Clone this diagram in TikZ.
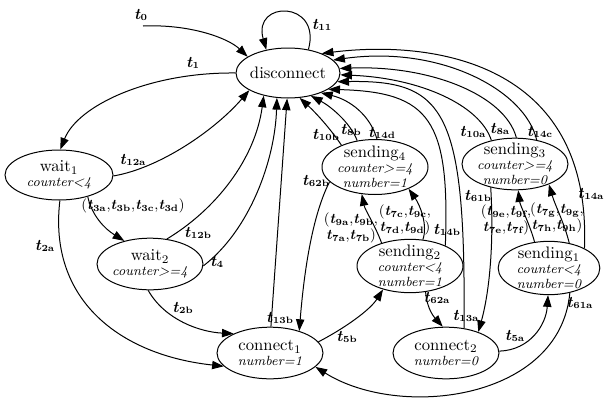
\documentclass[tikz,border=0pt]{standalone}
\usetikzlibrary{arrows.meta,shapes.geometric}
\newcommand{\tlab}[1]{\textbf{\textit{t}}\textsubscript{\fontsize{5.6}{5.6}\selectfont\bfseries #1}}
\newcommand{\sit}[1]{{\fontsize{8}{9}\selectfont\itshape #1}}
\begin{document}
\begin{tikzpicture}[x=0.6pt,y=-0.6pt,
  st/.style={ellipse,draw,line width=0.6pt,inner sep=-3pt,align=center,
    font=\fontsize{10}{9}\selectfont,minimum width=63.6pt,minimum height=31pt},
  tr/.style={line width=0.6pt,-{Triangle[length=7pt,width=5pt]}},
  lb/.style={font=\fontsize{9.5}{9.5}\selectfont,inner sep=0pt,align=center},
  lbs/.style={font=\fontsize{8.6}{9.5}\selectfont,inner sep=0pt,align=center}
]
\useasboundingbox (0,0) rectangle (605,399);
% states
\node[st,minimum width=62.4pt,minimum height=30pt] (disc) at (288,73) {disconnect};
\node[st,minimum width=64.8pt,minimum height=30pt] (w1) at (59,175) {wait\textsubscript{1}\\\sit{counter<4}};
\node[st] (w2) at (150,264) {wait\textsubscript{2}\\\sit{counter>=4}};
\node[st] (c1) at (270,353) {connect\textsubscript{1}\\\sit{number=1}};
\node[st] (c2) at (446,353) {connect\textsubscript{2}\\\sit{number=0}};
\node[st,minimum height=33pt] (s4) at (375,167) {sending\textsubscript{4}\\\sit{counter>=4}\\\sit{number=1}};
\node[st,minimum height=31pt] (s3) at (515,164) {sending\textsubscript{3}\\\sit{counter>=4}\\\sit{number=0}};
\node[st,minimum height=32pt] (s2) at (410,266) {sending\textsubscript{2}\\\sit{counter<4}\\\sit{number=1}};
\node[st,minimum width=61pt,minimum height=32pt] (s1) at (549,268) {sending\textsubscript{1}\\\sit{counter<4}\\\sit{number=0}};
\coordinate (t0s) at (143,26);
% transitions
\draw[tr] (t0s) .. controls (190,24) and (228,38) .. (disc.158);
\draw[tr] (disc.49) .. controls (322,0) and (252,0) .. (disc.133);
\draw[tr] (disc.180) .. controls (150,72) and (78,105) .. (w1.87);
\draw[tr] (w1.-1) .. controls (160,168) and (215,130) .. (disc.204);
\draw[tr] (w1.272) .. controls (48,300) and (120,355) .. (c1.196);
\draw[tr] (w1.323) .. controls (92,216) and (105,229) .. (w2.138);
\draw[tr] (w2.56) .. controls (215,210) and (255,160) .. (disc.223);
\draw[tr] (w2.-2) .. controls (250,230) and (275,160) .. (disc.246);
\draw[tr] (c1.88) -- (disc.268);
\draw[tr] (w2.266) .. controls (165,320) and (200,332) .. (c1.152);
\draw[tr] (c1.13) .. controls (345,328) and (370,310) .. (s2.221);
\draw[tr] (s4.198) .. controls (310,220) and (303,285) .. (c1.37);
\draw[tr] (s4.147) .. controls (330,128) and (315,112) .. (disc.295);
\draw[tr] (s4.124) .. controls (350,122) and (330,106) .. (disc.315);
\draw[tr] (s4.86) .. controls (370,115) and (350,100) .. (disc.329);
\draw[tr] (s2.141) .. controls (375,225) and (365,210) .. (s4.244);
\draw[tr] (s2.64) .. controls (428,225) and (420,205) .. (s4.327);
\draw[tr] (s2.30) .. controls (450,120) and (430,92) .. (disc.338);
\draw[tr] (s2.301) .. controls (427,310) and (435,318) .. (c2.97);
\draw[tr] (c2.54) .. controls (466,110) and (445,80) .. (disc.350);
\draw[tr] (s3.224) .. controls (494,240) and (490,290) .. (c2.33);
\draw[tr] (s3.135) .. controls (480,105) and (420,78) .. (disc.358);
\draw[tr] (s3.87) .. controls (505,95) and (430,65) .. (disc.5);
\draw[tr] (s3.48) .. controls (525,90) and (440,45) .. (disc.16);
\draw[tr] (s1.119) .. controls (530,225) and (520,205) .. (s3.277);
\draw[tr] (s1.51) .. controls (565,225) and (555,205) .. (s3.329);
\draw[tr] (s1.29) .. controls (592,60) and (430,40) .. (disc.30);
\draw[tr] (c2.2) .. controls (530,350) and (546,325) .. (s1.268);
\draw[tr] (s1.310) .. controls (560,400) and (400,420) .. (c1.343);
% labels
\node[lb] (l0) at (141,15) {\tlab{0}};
\node[lb] (l11) at (322,25) {\tlab{11}};
\node[lb] (l1) at (193,63) {\tlab{1}};
\node[lb] (l12a) at (133,160) {\tlab{12a}};
\node[lb] (l2a) at (45,246) {\tlab{2a}};
\node[lbs] (l3) at (133,206) {(\tlab{3a},\tlab{3b},\tlab{3c},\tlab{3d})};
\node[lb] (l12b) at (198,233) {\tlab{12b}};
\node[lb] (l4) at (217,262) {\tlab{4}};
\node[lb] (l2b) at (183,308) {\tlab{2b}};
\node[lb] (l13b) at (280,318) {\tlab{13b}};
\node[lb] (l5b) at (347,337) {\tlab{5b}};
\node[lb] (l62b) at (316,181) {\tlab{62b}};
\node[lb] (l10b) at (326,135) {\tlab{10b}};
\node[lb] (l8b) at (351,130) {\tlab{8b}};
\node[lb] (l14d) at (382,133) {\tlab{14d}};
\node[lbs] (l9a) at (351,228) {(\tlab{9a},\tlab{9b},\\\tlab{7a},\tlab{7b})};
\node[lbs] (l7c) at (405,220) {(\tlab{7c},\tlab{9c},\\\tlab{7d},\tlab{9d})};
\node[lb] (l14b) at (447,230) {\tlab{14b}};
\node[lb] (l62a) at (437,298) {\tlab{62a}};
\node[lb] (l13a) at (466,316) {\tlab{13a}};
\node[lb] (l61b) at (478,196) {\tlab{61b}};
\node[lb] (l10a) at (473,132) {\tlab{10a}};
\node[lb] (l8a) at (500,129) {\tlab{8a}};
\node[lb] (l14c) at (540,132) {\tlab{14c}};
\node[lbs] (l9e) at (506,220) {(\tlab{9e},\tlab{9f},\\\tlab{7e},\tlab{7f})};
\node[lbs] (l7g) at (557,218) {(\tlab{7g},\tlab{9g},\\\tlab{7h},\tlab{9h})};
\node[lb] (l14a) at (591,194) {\tlab{14a}};
\node[lb] (l5a) at (515,336) {\tlab{5a}};
\node[lb] (l61a) at (580,303) {\tlab{61a}};
\end{tikzpicture}
\end{document}
